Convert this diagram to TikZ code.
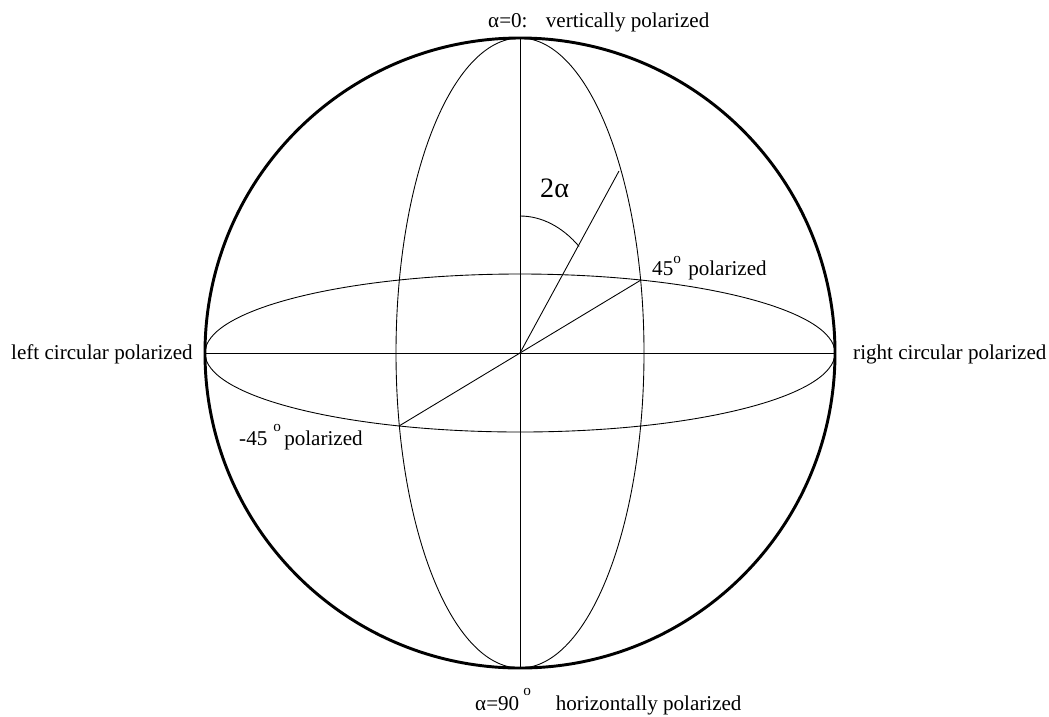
\documentclass[tikz,border=0pt]{standalone}
\usepackage{fontspec}
\setmainfont{Liberation Serif}
\usetikzlibrary{positioning,calc}
\tikzset{
  sphere/.style={line width=2.5pt},
  thinline/.style={line width=0.75pt},
  lbl/.style={font=\fontsize{18}{20}\selectfont, inner sep=0pt, anchor=base west},
  biglbl/.style={font=\fontsize{24}{26}\selectfont, inner sep=0pt, anchor=base west}
}
\newcommand{\dego}{\raisebox{1.2ex}{\fontsize{13}{13}\selectfont o}}
\begin{document}
\begin{tikzpicture}[x=0.03cm, y=-0.03cm]
  \useasboundingbox (0,0) rectangle (1049,716);
  % Points on the sphere
  \coordinate (O) at (520,353);
  \coordinate (N) at (520,38);
  \coordinate (S) at (520,668);
  \coordinate (W) at (205,353);
  \coordinate (E) at (835,353);
  \coordinate (P45) at (641,280);
  \coordinate (M45) at (399,426);
  \coordinate (Q) at (619,171);

  % Sphere and great circles
  \draw[sphere] (O) circle [radius=315];
  \draw[thinline] (O) ellipse [x radius=124, y radius=315];
  \draw[thinline] (O) ellipse [x radius=315, y radius=79];

  % Axes
  \draw[thinline] (N) -- (S);
  \draw[thinline] (W) -- (E);
  \draw[thinline] (M45) -- (P45);
  \draw[thinline] (O) -- (Q);

  % Angle
  \draw[thinline] (520,216) arc [start angle=-90, end angle=-51, x radius=94, y radius=137];

  % Labels
  \node[lbl] (top) at (488,27) {α=0:\hspace{0.55cm}vertically polarized};
  \node[lbl] (bottom) at (475,710) {α=90\hspace{0.12cm}\raisebox{0.3ex}{\dego}\hspace{0.75cm}horizontally polarized};
  \node[lbl] (left) at (11,359) {left circular polarized};
  \node[lbl] (right) at (853,359) {right circular polarized};
  \node[lbl] (plus) at (652,275) {45\dego\hspace{0.22cm}polarized};
  \node[lbl] (minus) at (239,445) {-45\hspace{0.18cm}\raisebox{0.2ex}{\dego}\hspace{0.1cm}polarized};
  \node[biglbl] (angle) at (540,197) {2α};
\end{tikzpicture}
\end{document}
